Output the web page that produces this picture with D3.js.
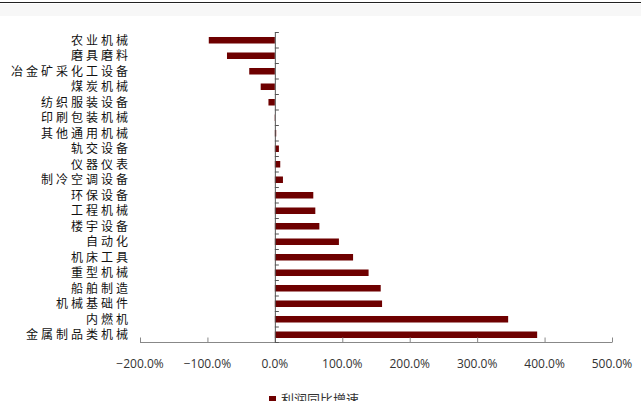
<!DOCTYPE html>
<html>
<head>
<meta charset="utf-8">
<script src="https://cdn.jsdelivr.net/npm/d3@7"></script>
<style>
  body { margin: 0; background: #fff; }
  svg { display: block; }
</style>
</head>
<body>
<svg id="chart" width="641" height="401"></svg>
<script>
const categories = ["农业机械", "磨具磨料", "冶金矿采化工设备", "煤炭机械", "纺织服装设备",
    "印刷包装机械", "其他通用机械", "轨交设备", "仪器仪表", "制冷空调设备",
    "环保设备", "工程机械", "楼宇设备", "自动化", "机床工具",
    "重型机械", "船舶制造", "机械基础件", "内燃机", "金属制品类机械"];
const values = [-98, -71, -38, -21, -9.5, -0.4, 2, 6, 8, 12,
    57, 60, 66, 95, 116, 139, 157, 159, 346, 389];
const xTicks = [-200, -100, 0, 100, 200, 300, 400, 500];
const seriesName = "利润同比增速";

const svg = d3.select("#chart");
const barColor = "#6e0000";

// top strip
svg.append("rect").attr("x", 0).attr("y", 4).attr("width", 641).attr("height", 12).attr("fill", "#f7f7f7");
svg.append("line").attr("x1", 0).attr("x2", 641).attr("y1", 2.5).attr("y2", 2.5)
    .attr("stroke", "#222").attr("stroke-width", 1.2);

const x = d3.scaleLinear().domain([-200, 500]).range([140, 612]);
const y = d3.scaleBand().domain(categories).range([32.5, 342.5]).paddingInner(0.58).paddingOuter(0.29);
const yEdges = d3.scaleLinear().domain([0, categories.length]).range([32.5, 342.5]);

// bars
svg.append("g")
    .selectAll("rect")
    .data(values)
    .join("rect")
    .attr("x", d => x(Math.min(0, d)))
    .attr("y", (d, i) => y(categories[i]))
    .attr("width", d => Math.abs(x(d) - x(0)))
    .attr("height", y.bandwidth())
    .attr("fill", barColor);

// x axis
const xAxis = svg.append("g").attr("transform", "translate(0,342.5)");
xAxis.append("line").attr("x1", x(-200)).attr("x2", x(500)).attr("stroke", "#888");
xAxis.selectAll("line.tick")
    .data(xTicks)
    .join("line")
    .attr("class", "tick")
    .attr("x1", d => x(d) + 0.5).attr("x2", d => x(d) + 0.5)
    .attr("y1", 0).attr("y2", -5)
    .attr("stroke", "#888");
xAxis.selectAll("text")
    .data(xTicks)
    .join("text")
    .attr("x", d => x(d))
    .attr("y", 25)
    .attr("text-anchor", "middle")
    .attr("font-family", "Open Sans, sans-serif")
    .attr("font-size", 12)
    .attr("fill", "#333")
    .text(d => d3.format(".1f")(d) + "%");

// y axis at zero
const yAxis = svg.append("g");
yAxis.append("line")
    .attr("x1", x(0) + 0.5).attr("x2", x(0) + 0.5)
    .attr("y1", yEdges(0)).attr("y2", yEdges(categories.length))
    .attr("stroke", "#555");
yAxis.selectAll("line.tick")
    .data(d3.range(categories.length + 1))
    .join("line")
    .attr("class", "tick")
    .attr("x1", x(0)).attr("x2", x(0) + 4)
    .attr("y1", d => yEdges(d)).attr("y2", d => yEdges(d))
    .attr("stroke", "#555");

// category labels
svg.append("g")
    .selectAll("text")
    .data(categories)
    .join("text")
    .attr("x", 131)
    .attr("y", d => y(d) + y.bandwidth() / 2)
    .attr("dy", "0.36em")
    .attr("text-anchor", "end")
    .attr("font-family", "Noto Sans CJK SC, sans-serif")
    .attr("font-size", 12)
    .attr("letter-spacing", 3)
    .attr("fill", "#111")
    .text(d => d);

// legend
const legend = svg.append("g").attr("transform", "translate(269,396)");
legend.append("rect").attr("width", 7).attr("height", 7).attr("fill", barColor);
legend.append("text")
    .attr("x", 12).attr("y", 8)
    .attr("font-family", "Noto Sans CJK SC, sans-serif")
    .attr("font-size", 13)
    .attr("fill", "#333")
    .text(seriesName);
</script>
</body>
</html>
